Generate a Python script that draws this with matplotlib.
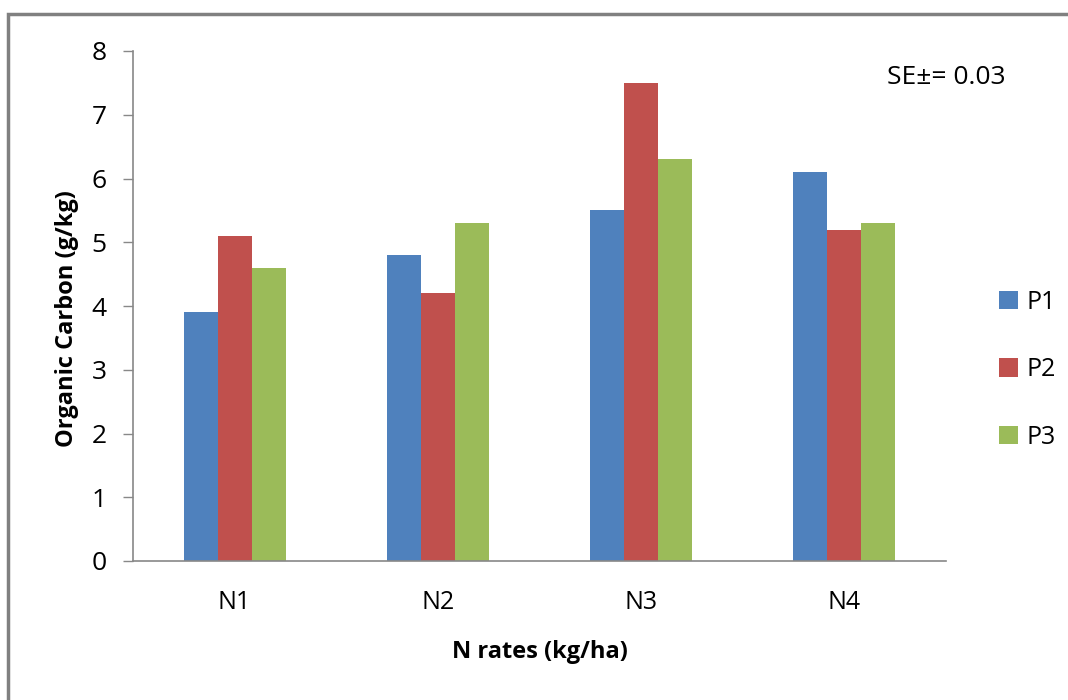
import numpy as np
import matplotlib.pyplot as plt
from matplotlib.patches import Rectangle

# data
categories = ['N1', 'N2', 'N3', 'N4']
series_names = ['P1', 'P2', 'P3']
p1 = [3.9, 4.8, 5.5, 6.1]
p2 = [5.1, 4.2, 7.5, 5.2]
p3 = [4.6, 5.3, 6.3, 5.3]
yticks = [0, 1, 2, 3, 4, 5, 6, 7, 8]

colors = ['#4F81BD', '#C0504D', '#9BBB59']
plt.rcParams['font.family'] = ['Open Sans', 'DejaVu Sans']

fig = plt.figure(figsize=(10.68, 7.0), dpi=100)
ax = fig.add_axes([133/1068, 1 - 561/700, (946 - 133)/1068, (561 - 51)/700])

# outer frame (runs off the right/bottom edges like the original)
fig.patches.append(Rectangle((8/1068, -0.05), 1.1, 1 - 14/700 + 0.05,
                             transform=fig.transFigure, fill=False,
                             edgecolor='#808080', linewidth=2.5))

x = np.arange(len(categories))
w = 0.1675
for i, (vals, name) in enumerate(zip([p1, p2, p3], series_names)):
    ax.bar(x + (i - 1) * w, vals, width=w, color=colors[i], label=name)

ax.set_xlim(-0.5, 3.5)
ax.set_ylim(0, 8)
ax.set_yticks(yticks)
ax.set_xticks(x)
ax.set_xticklabels(categories, fontsize=18)
ax.tick_params(axis='x', length=0, pad=21)
ax.tick_params(axis='y', labelsize=19, length=7, width=1, color='#888888', pad=12)
for s in ['top', 'right']:
    ax.spines[s].set_visible(False)
for s in ['left', 'bottom']:
    ax.spines[s].set_color('#888888')
    ax.spines[s].set_linewidth(1.2)

ax.set_ylabel('Organic Carbon (g/kg)', fontsize=17, fontweight='bold')
ax.yaxis.set_label_coords(-0.066, 0.475)
ax.set_xlabel('N rates (kg/ha)', fontsize=17, fontweight='bold', labelpad=18)

fig.text(887/1068, 1 - 78/700, 'SE\u00b1= 0.03', fontsize=19, va='center', ha='left')

ax.legend(loc='center left', bbox_to_anchor=(1.05, 0.375), frameon=False,
          fontsize=18, handlelength=0.75, handleheight=0.75,
          handletextpad=0.35, labelspacing=1.7, borderpad=0)

fig.savefig('out.png', dpi=100)
